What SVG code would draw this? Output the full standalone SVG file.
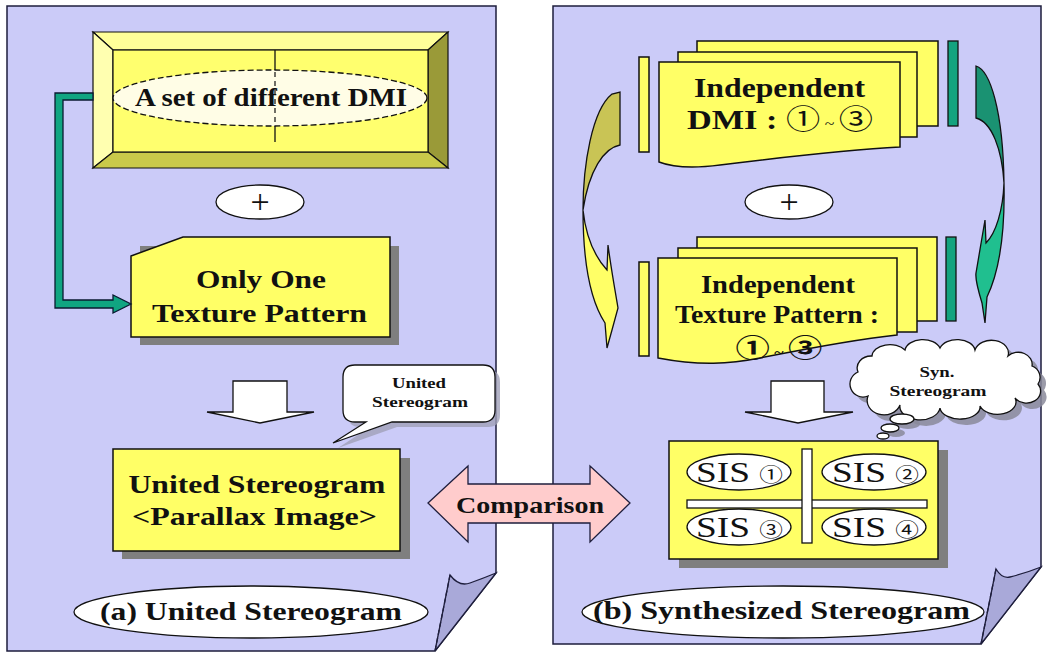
<svg xmlns="http://www.w3.org/2000/svg" width="1047" height="653" viewBox="0 0 1047 653">
  <style>
    .page { fill: #cbcbf8; stroke: #1e1e3c; stroke-width: 1.5; }
    .fold { fill: #a9a9d9; stroke: #1e1e3c; stroke-width: 1.3; }
    .foldedge { fill: none; stroke: #1e1e3c; stroke-width: 1.3; stroke-dasharray: 5 3; }
    .yel { fill: #ffff66; stroke: #111; stroke-width: 1.5; }
    .shadow { fill: #7f7f7f; }
    .white { fill: #ffffff; stroke: #111; stroke-width: 1.3; }
    .lbl { font-family: "Liberation Serif", "Noto Sans CJK KR", serif; font-weight: bold; fill: #111; text-anchor: middle; }
    .sis { font-family: "Liberation Serif", "Noto Sans CJK KR", serif; fill: #111; }
    .plus { font-family: "Liberation Serif", serif; fill: #111; text-anchor: middle; font-size: 34px; }
  </style>

  <!-- left panel: united stereogram -->
  <g id="panel-a">
    <path class="page" d="M7,6 H496 V573 L435,651 H7 Z"/>
    <path class="fold" d="M450,575 Q459,587 470,583 Q484,578 496,573 L435,651 Z"/>
    <path class="foldedge" d="M450,575 L435,651"/>
  </g>

  <!-- right panel: synthesized stereogram -->
  <g id="panel-b">
    <path class="page" d="M553,6 H1041 V567 L981,644 H553 Z"/>
    <path class="fold" d="M996,569 Q1002,579 1010,577 Q1026,573 1041,567 L981,644 Z"/>
    <path class="foldedge" d="M996,569 L981,644"/>
  </g>

  <!-- bevelled frame holding the DMI set -->
  <g id="dmi-set">
    <polygon points="93,32 448,32 428,50 113,50" fill="#ffff99" stroke="#111" stroke-width="1.2"/>
    <polygon points="93,32 113,50 113,152 93,168" fill="#ffffb0" stroke="#111" stroke-width="1.2"/>
    <polygon points="448,32 448,168 428,152 428,50" fill="#9a9a38" stroke="#111" stroke-width="1.2"/>
    <polygon points="93,168 448,168 428,152 113,152" fill="#c9c94a" stroke="#111" stroke-width="1.2"/>
    <rect x="113" y="50" width="315" height="102" fill="#ffff6e" stroke="#111" stroke-width="1.2"/>
    <line x1="275" y1="50" x2="275" y2="71" stroke="#111" stroke-width="1.3"/>
    <line x1="275" y1="125" x2="275" y2="142" stroke="#111" stroke-width="1.3"/>
    <ellipse cx="270" cy="98" rx="157" ry="28" fill="#fffde6" stroke="#111" stroke-width="1.3" stroke-dasharray="6 3"/>
    <line x1="275" y1="72" x2="275" y2="124" stroke="#111" stroke-width="1.2" stroke-dasharray="5 4"/>
    <text class="lbl" x="271" y="106" font-size="26" textLength="272" lengthAdjust="spacingAndGlyphs">A set of different DMI</text>
  </g>

  <g id="plus-a">
    <ellipse class="white" cx="260" cy="202" rx="44" ry="17"/>
    <text class="plus" x="260" y="213">+</text>
  </g>

  <g id="texture-one">
    <path class="shadow" d="M140,246 H399 V345 H140 Z"/>
    <path class="yel" d="M131,256 L183,237 H390 V337 H131 Z"/>
    <text class="lbl" x="261" y="288" font-size="26" textLength="130" lengthAdjust="spacingAndGlyphs">Only One</text>
    <text class="lbl" x="259.5" y="322" font-size="26" textLength="215" lengthAdjust="spacingAndGlyphs">Texture Pattern</text>
  </g>

  <g id="callout-united">
    <path d="M360,370 H488 Q500,370 500,382 V415 Q500,427 488,427 H397 L338,448 L370,427 H360 Q348,427 348,415 V382 Q348,370 360,370 Z" fill="#a0a0b8" opacity="0.8"/>
    <path class="white" d="M355,365 H483 Q495,365 495,377 V410 Q495,422 483,422 H392 L333,443 L366,422 H355 Q343,422 343,410 V377 Q343,365 355,365 Z"/>
    <text class="lbl" x="419" y="388" font-size="15" textLength="54" lengthAdjust="spacingAndGlyphs">United</text>
    <text class="lbl" x="420" y="407" font-size="15" textLength="96" lengthAdjust="spacingAndGlyphs">Stereogram</text>
  </g>

  <g id="united-stereogram">
    <rect class="shadow" x="122" y="458" width="288" height="101"/>
    <rect class="yel" x="113" y="449" width="287" height="102"/>
    <text class="lbl" x="257" y="493" font-size="26" textLength="257" lengthAdjust="spacingAndGlyphs">United Stereogram</text>
    <text class="lbl" x="254.5" y="525" font-size="26" textLength="245" lengthAdjust="spacingAndGlyphs">&lt;Parallax Image&gt;</text>
  </g>

  <g id="caption-a">
    <ellipse class="white" cx="251" cy="612" rx="177" ry="26"/>
    <text class="lbl" x="251" y="620" font-size="26" textLength="302" lengthAdjust="spacingAndGlyphs">(a) United Stereogram</text>
  </g>

  <!-- stacked DMI cards -->
  <g id="dmi-stack">
    <rect class="yel" x="697" y="41" width="241" height="85"/>
    <rect class="yel" x="678" y="52" width="239" height="85"/>
    <path class="yel" d="M659,62 H900 V147 C840,150 760,160 720,165 C690,169 672,167 659,162 Z"/>
    <rect class="yel" x="639" y="57" width="10" height="95"/>
    <rect x="948" y="41" width="10" height="85" fill="#14a37f" stroke="#111" stroke-width="1.3"/>
    <text class="lbl" x="779.5" y="97" font-size="27" textLength="171" lengthAdjust="spacingAndGlyphs">Independent</text>
    <text class="lbl" x="780" y="129" font-size="27" textLength="186" lengthAdjust="spacingAndGlyphs">DMI : <tspan font-weight="normal">①</tspan><tspan font-size="14" font-weight="normal"> ~ </tspan><tspan font-weight="normal">③</tspan></text>
  </g>

  <g id="plus-b">
    <ellipse class="white" cx="789" cy="202" rx="44" ry="17"/>
    <text class="plus" x="789" y="213">+</text>
  </g>

  <!-- stacked texture cards -->
  <g id="texture-stack">
    <rect class="yel" x="697" y="237" width="240" height="84"/>
    <rect class="yel" x="678" y="248" width="239" height="84"/>
    <path class="yel" d="M658,258 H897 V335 C850,340 800,350 760,358 C730,364 700,366 658,358 Z"/>
    <rect class="yel" x="639" y="262" width="10" height="94"/>
    <rect x="946" y="237" width="10" height="84" fill="#14a37f" stroke="#111" stroke-width="1.3"/>
    <text class="lbl" x="778" y="293" font-size="25" textLength="154" lengthAdjust="spacingAndGlyphs">Independent</text>
    <text class="lbl" x="777" y="323" font-size="25" textLength="204" lengthAdjust="spacingAndGlyphs">Texture Pattern :</text>
    <text class="lbl" x="779" y="357" font-size="25" font-weight="normal" textLength="87" lengthAdjust="spacingAndGlyphs">①<tspan font-size="13"> ~ </tspan>③</text>
  </g>

  <g id="cloud-syn">
    <path d="M864,378 A14,12 0 0 1 878,362 A18,12 0 0 1 911,356 A18,12 0 0 1 946,354 A18,12 0 0 1 981,356 A16,12 0 0 1 1014,362 A14,12 0 0 1 1038,372 A12,12 0 0 1 1044,390 A14,12 0 0 1 1021,404 A18,12 0 0 1 986,412 A20,12 0 0 1 946,414 A18,12 0 0 1 906,411 A14,12 0 0 1 874,402 A12,12 0 0 1 864,378 Z" fill="#8a8a9a" opacity="0.85"/>
    <ellipse cx="908" cy="424" rx="12" ry="5" fill="#8a8a9a" opacity="0.85"/>
    <ellipse cx="896" cy="433" rx="9" ry="4" fill="#8a8a9a" opacity="0.85"/>
    <path class="white" d="M858,372 A14,12 0 0 1 872,356 A18,12 0 0 1 905,350 A18,12 0 0 1 940,348 A18,12 0 0 1 975,350 A16,12 0 0 1 1008,356 A14,12 0 0 1 1032,366 A12,12 0 0 1 1038,384 A14,12 0 0 1 1015,398 A18,12 0 0 1 980,406 A20,12 0 0 1 940,408 A18,12 0 0 1 900,405 A14,12 0 0 1 868,396 A12,12 0 0 1 858,372 Z"/>
    <ellipse class="white" cx="902" cy="419" rx="12" ry="5"/>
    <ellipse class="white" cx="890" cy="428" rx="9" ry="4"/>
    <ellipse class="white" cx="883" cy="436" rx="6" ry="3"/>
    <text class="lbl" x="937" y="377" font-size="15" textLength="35" lengthAdjust="spacingAndGlyphs">Syn.</text>
    <text class="lbl" x="938" y="396" font-size="15" textLength="97" lengthAdjust="spacingAndGlyphs">Stereogram</text>
  </g>

  <g id="sis-grid">
    <rect class="shadow" x="679" y="450" width="269" height="118"/>
    <rect class="yel" x="669" y="441" width="269" height="118"/>
    <rect class="white" x="687" y="500" width="240" height="8"/>
    <rect class="white" x="802" y="449" width="10" height="94"/>
    <ellipse class="white" cx="739" cy="472" rx="52" ry="18"/>
    <ellipse class="white" cx="874" cy="472" rx="52" ry="18"/>
    <ellipse class="white" cx="739" cy="527" rx="52" ry="18"/>
    <ellipse class="white" cx="874" cy="527" rx="52" ry="18"/>
    <text class="sis" x="696" y="482" font-size="30" textLength="87" lengthAdjust="spacingAndGlyphs">SIS <tspan font-size="19">①</tspan></text>
    <text class="sis" x="832" y="482" font-size="30" textLength="87" lengthAdjust="spacingAndGlyphs">SIS <tspan font-size="19">②</tspan></text>
    <text class="sis" x="696" y="537" font-size="30" textLength="87" lengthAdjust="spacingAndGlyphs">SIS <tspan font-size="19">③</tspan></text>
    <text class="sis" x="832" y="537" font-size="30" textLength="87" lengthAdjust="spacingAndGlyphs">SIS <tspan font-size="19">④</tspan></text>
  </g>

  <g id="caption-b">
    <ellipse class="white" cx="783" cy="612" rx="201" ry="26"/>
    <text class="lbl" x="781.5" y="619" font-size="26" textLength="377" lengthAdjust="spacingAndGlyphs">(b) Synthesized Stereogram</text>
  </g>

  <!-- connectors -->
  <g id="connectors">
    <!-- elbow from the DMI frame to the single texture -->
    <path d="M93,93 H55 V308 H113 V313 L131,304 L113,295 V300 H63 V100 H93 Z" fill="#10a581" stroke="#0a1a30" stroke-width="1.3"/>
    <!-- block arrows down -->
    <path class="white" d="M233,381 H287 V412 H314 L260,423 L207,412 H233 Z"/>
    <path class="white" d="M771,381 H824 V412 H853 L798,423 L745,412 H771 Z"/>
    <!-- curved arrow on the left side -->
    <path d="M620,92 V145 C604,148 589,170 583,210 C583,165 592,110 612,94 Z" fill="#c9c455" stroke="#111" stroke-width="1.3"/>
    <path d="M583,210 C583,260 590,300 605,323 L607,348 L612,330 L618,308 C615,290 611,268 608,245 L607,270 C596,258 586,238 583,210 Z" fill="#ffff66" stroke="#111" stroke-width="1.3"/>
    <!-- curved arrow on the right side -->
    <path d="M976,66 C990,70 1003,110 1004,183 C1002,150 992,122 976,118 Z" fill="#1a9272" stroke="#111" stroke-width="1.3"/>
    <path d="M1004,183 C1005,230 1000,270 987,297 L985,323 L982,303 C978,290 975,280 976,273 L985,220 L986,243 C996,233 1003,210 1004,183 Z" fill="#20bf8f" stroke="#111" stroke-width="1.3"/>
    <!-- comparison double arrow -->
    <path d="M428,503 L468,466 V484 H590 V466 L630,503 L590,542 V523 H468 V542 Z" fill="#ffcccc" stroke="#1e1e3c" stroke-width="1.3"/>
    <text class="lbl" x="530" y="513" font-size="23" textLength="148" lengthAdjust="spacingAndGlyphs">Comparison</text>
  </g>
</svg>
